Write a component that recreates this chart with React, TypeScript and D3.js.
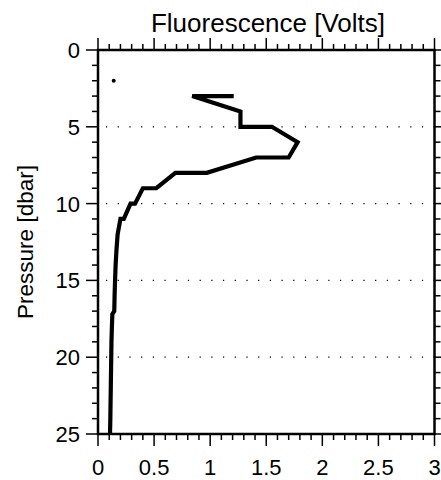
import React from "react";
import * as d3 from "d3";

const fluorescence = [1.21, 0.84, 1.27, 1.27, 1.55, 1.78, 1.70, 1.41, 0.97, 0.69, 0.52, 0.40, 0.33, 0.29, 0.23, 0.20, 0.175, 0.165, 0.157, 0.152, 0.148, 0.145, 0.128, 0.124, 0.12, 0.118, 0.116, 0.114, 0.112, 0.11, 0.107];
const pressure = [3, 3, 4, 5, 5, 6, 7, 7, 8, 8, 9, 9, 10, 10, 11, 11, 12, 13, 14, 15, 16, 17, 17.2, 18, 19, 20, 21, 22, 23, 24, 25];
const dotX = [0.14];
const dotY = [2];
const xTicks = [0, 0.5, 1, 1.5, 2, 2.5, 3];
const xTickLabels = ["0", "0.5", "1", "1.5", "2", "2.5", "3"];
const yTicks = [0, 5, 10, 15, 20, 25];
const gridLevels = [5, 10, 15, 20];

export default function App() {
  const W = 441, H = 480;
  const left = 98, right = 434.5, top = 50, bottom = 434;
  const x = d3.scaleLinear().domain([0, 3]).range([left, right]);
  const y = d3.scaleLinear().domain([0, 25]).range([top, bottom]);
  const line = d3.line<number>().x((d) => x(fluorescence[d])).y((d) => y(pressure[d]));
  const idx = fluorescence.map((_, i) => i);
  const xMinor = d3.range(0, 3.0001, 0.1);
  const yMinor = d3.range(0, 25.0001, 1);
  const font = "Liberation Sans, Arial, Helvetica, sans-serif";
  const isMajorX = (v: number) => Math.abs(v * 2 - Math.round(v * 2)) < 1e-6;
  const isMajorY = (v: number) => v % 5 === 0;
  return (
    <svg width={W} height={H} style={{ position: "absolute", left: 0, top: 0 }} fontFamily={font}>
      <rect x={0} y={0} width={W} height={H} fill="#fff" />
      {gridLevels.map((g) => (
        <line key={g} x1={left} x2={right} y1={y(g)} y2={y(g)} stroke="#000" strokeWidth={1.2} strokeDasharray="1.2,10.5" strokeDashoffset={-8} />
      ))}
      {xMinor.map((v, i) => {
        const len = isMajorX(v) ? 12 : 6;
        return (
          <g key={"xt" + i}>
            <line x1={x(v)} x2={x(v)} y1={top} y2={top - len} stroke="#000" strokeWidth={1.5} />
            <line x1={x(v)} x2={x(v)} y1={bottom} y2={bottom + len} stroke="#000" strokeWidth={1.5} />
          </g>
        );
      })}
      {yMinor.map((v, i) => {
        const len = isMajorY(v) ? 12 : 6;
        return (
          <g key={"yt" + i}>
            <line x1={left} x2={left - len} y1={y(v)} y2={y(v)} stroke="#000" strokeWidth={1.5} />
            <line x1={right} x2={right + len} y1={y(v)} y2={y(v)} stroke="#000" strokeWidth={1.5} />
          </g>
        );
      })}
      <rect x={left} y={top} width={right - left} height={bottom - top} fill="none" stroke="#000" strokeWidth={2.5} />
      <path d={line(idx) || ""} fill="none" stroke="#000" strokeWidth={4.2} strokeLinejoin="miter" />
      {dotX.map((d, i) => (
        <circle key={i} cx={x(d)} cy={y(dotY[i])} r={2} fill="#000" />
      ))}
      {xTicks.map((v, i) => (
        <text key={"xl" + i} x={x(v)} y={475} textAnchor="middle" fontSize={22}>{xTickLabels[i]}</text>
      ))}
      {yTicks.map((v) => (
        <text key={"yl" + v} x={80} y={y(v) + 8} textAnchor="end" fontSize={22}>{v}</text>
      ))}
      <text x={268} y={32} textAnchor="middle" fontSize={26}>Fluorescence [Volts]</text>
      <text transform={`translate(33,242) rotate(-90)`} textAnchor="middle" fontSize={22.5}>Pressure [dbar]</text>
    </svg>
  );
}
